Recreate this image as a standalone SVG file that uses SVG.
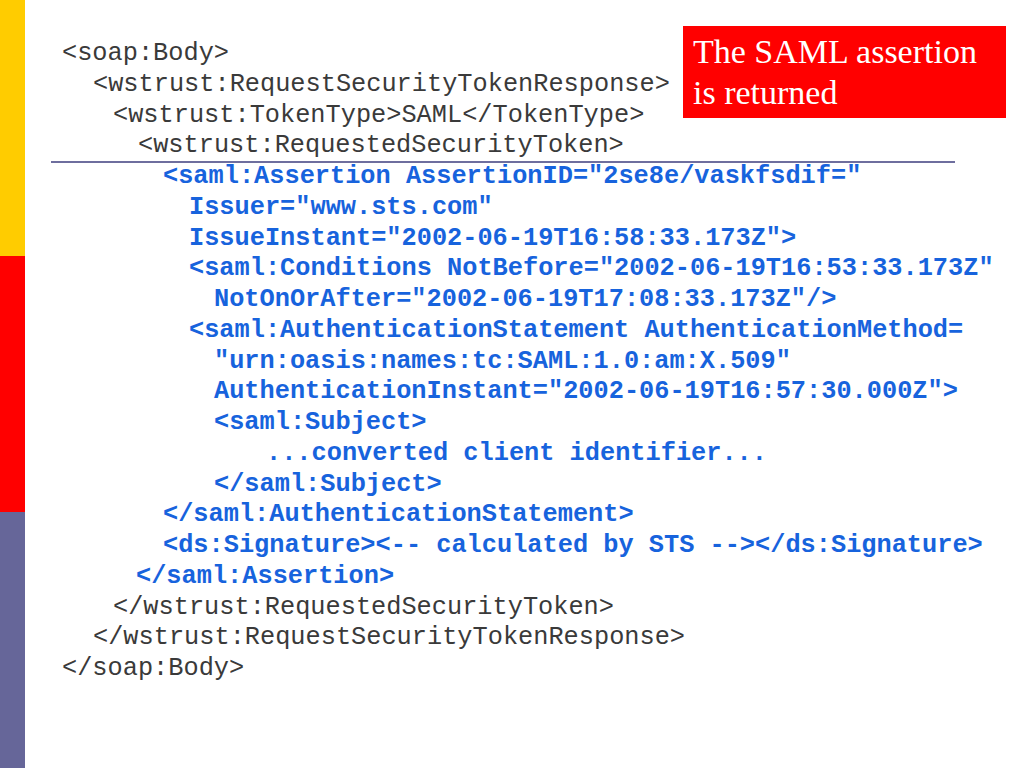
<svg xmlns="http://www.w3.org/2000/svg" width="1024" height="768" viewBox="0 0 1024 768">
<style>
.c{font-family:"Liberation Mono","Courier New",monospace;font-size:25.3px;fill:#3a3a3a;white-space:pre}
.b{font-family:"Liberation Mono","Courier New",monospace;font-size:25.3px;font-weight:bold;fill:#1763DD;white-space:pre}
.t{font-family:"Liberation Serif","Times New Roman",serif;font-size:34px;fill:#ffffff}
</style>
<rect width="1024" height="768" fill="#ffffff"/>
<g id="sidebar">
<rect x="0" y="0" width="25" height="256" fill="#FFCC00"/>
<rect x="0" y="256" width="25" height="256" fill="#FF0000"/>
<rect x="0" y="512" width="25" height="256" fill="#666699"/>
</g>
<g id="divider">
<line x1="51" y1="162" x2="955" y2="162" stroke="#6E6E9E" stroke-width="2"/>
</g>
<g id="code">
<text class="c" x="62" y="60">&lt;soap:Body&gt;</text>
<text class="c" x="93" y="90.75">&lt;wstrust:RequestSecurityTokenResponse&gt;</text>
<text class="c" x="113" y="121.5">&lt;wstrust:TokenType&gt;SAML&lt;/TokenType&gt;</text>
<text class="c" x="138" y="152.25">&lt;wstrust:RequestedSecurityToken&gt;</text>
<text class="b" x="163" y="183">&lt;saml:Assertion AssertionID="2se8e/vaskfsdif="</text>
<text class="b" x="189" y="213.75">Issuer="www.sts.com"</text>
<text class="b" x="189" y="244.5">IssueInstant="2002-06-19T16:58:33.173Z"&gt;</text>
<text class="b" x="189" y="275.25">&lt;saml:Conditions NotBefore="2002-06-19T16:53:33.173Z"</text>
<text class="b" x="214" y="306">NotOnOrAfter="2002-06-19T17:08:33.173Z"/&gt;</text>
<text class="b" x="189" y="336.75">&lt;saml:AuthenticationStatement AuthenticationMethod=</text>
<text class="b" x="214" y="367.5">"urn:oasis:names:tc:SAML:1.0:am:X.509"</text>
<text class="b" x="214" y="398.25">AuthenticationInstant="2002-06-19T16:57:30.000Z"&gt;</text>
<text class="b" x="214" y="429">&lt;saml:Subject&gt;</text>
<text class="b" x="266" y="459.75">...converted client identifier...</text>
<text class="b" x="214" y="490.5">&lt;/saml:Subject&gt;</text>
<text class="b" x="163" y="521.25">&lt;/saml:AuthenticationStatement&gt;</text>
<text class="b" x="163" y="552">&lt;ds:Signature&gt;&lt;-- calculated by STS --&gt;&lt;/ds:Signature&gt;</text>
<text class="b" x="136" y="582.75">&lt;/saml:Assertion&gt;</text>
<text class="c" x="113" y="613.5">&lt;/wstrust:RequestedSecurityToken&gt;</text>
<text class="c" x="93" y="644.25">&lt;/wstrust:RequestSecurityTokenResponse&gt;</text>
<text class="c" x="62" y="675">&lt;/soap:Body&gt;</text>
</g>
<g id="callout">
<rect x="683" y="26" width="323" height="92" fill="#FF0000"/>
<text class="t" x="693" y="63">The SAML assertion</text>
<text class="t" x="693" y="104">is returned</text>
</g>
</svg>
